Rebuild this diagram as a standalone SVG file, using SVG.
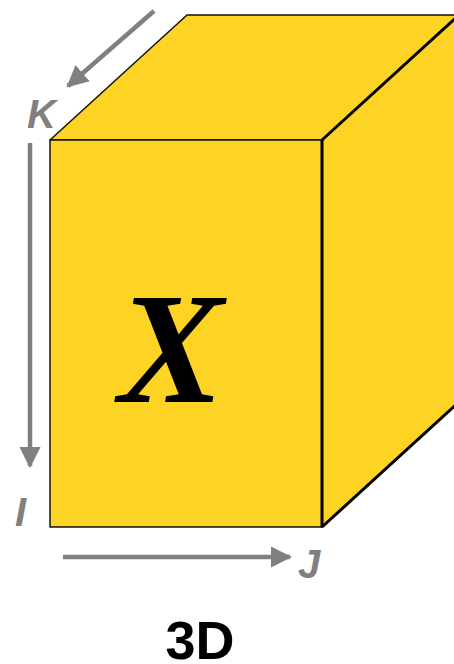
<svg xmlns="http://www.w3.org/2000/svg" width="454" height="664" viewBox="0 0 454 664">
<style>
.face{fill:#FDD324;stroke:#111;stroke-width:1.5;stroke-linejoin:round}
.edge{fill:none;stroke:#000;stroke-width:3}
.ax{stroke:#808080;stroke-width:4.5;fill:none}
.lbl{font-family:"Liberation Sans",Arial,sans-serif;font-weight:bold;font-style:italic;fill:#808080;font-size:40px}
</style>
<defs>
<marker id="ah" viewBox="0 0 10 10" refX="9" refY="5" markerWidth="4.8" markerHeight="4.8" orient="auto" markerUnits="strokeWidth">
<path d="M0,0 L10,5 L0,10 z" fill="#808080"/>
</marker>
</defs>
<rect width="454" height="664" fill="#fff"/>
<g id="cube">
<polygon class="face" points="50,140 187,15 459,15 322,140"/>
<polygon class="face" points="322,140 459,15 459,402 322,527"/>
<rect class="face" x="50" y="140" width="272" height="387"/>
<line class="edge" x1="322" y1="140" x2="322" y2="527"/>
<line class="edge" x1="322" y1="140" x2="459" y2="15"/>
<line class="edge" x1="322" y1="527" x2="459" y2="402"/>
<text x="171" y="402" font-family="'Liberation Serif','Times New Roman',serif" font-weight="bold" font-style="italic" font-size="158" text-anchor="middle" fill="#000">X</text>
</g>
<g id="connectors">
<line class="ax" x1="154" y1="11" x2="68" y2="86" marker-end="url(#ah)"/>
<line class="ax" x1="30" y1="143" x2="30" y2="466" marker-end="url(#ah)"/>
<line class="ax" x1="63" y1="557" x2="290" y2="557" marker-end="url(#ah)"/>
</g>
<g id="labels">
<text class="lbl" x="27" y="128">K</text>
<text class="lbl" x="15" y="526">I</text>
<text class="lbl" x="298" y="578">J</text>
<text x="200" y="659" font-family="'Liberation Sans',Arial,sans-serif" font-weight="bold" font-size="54" text-anchor="middle" fill="#000">3D</text>
</g>
</svg>
